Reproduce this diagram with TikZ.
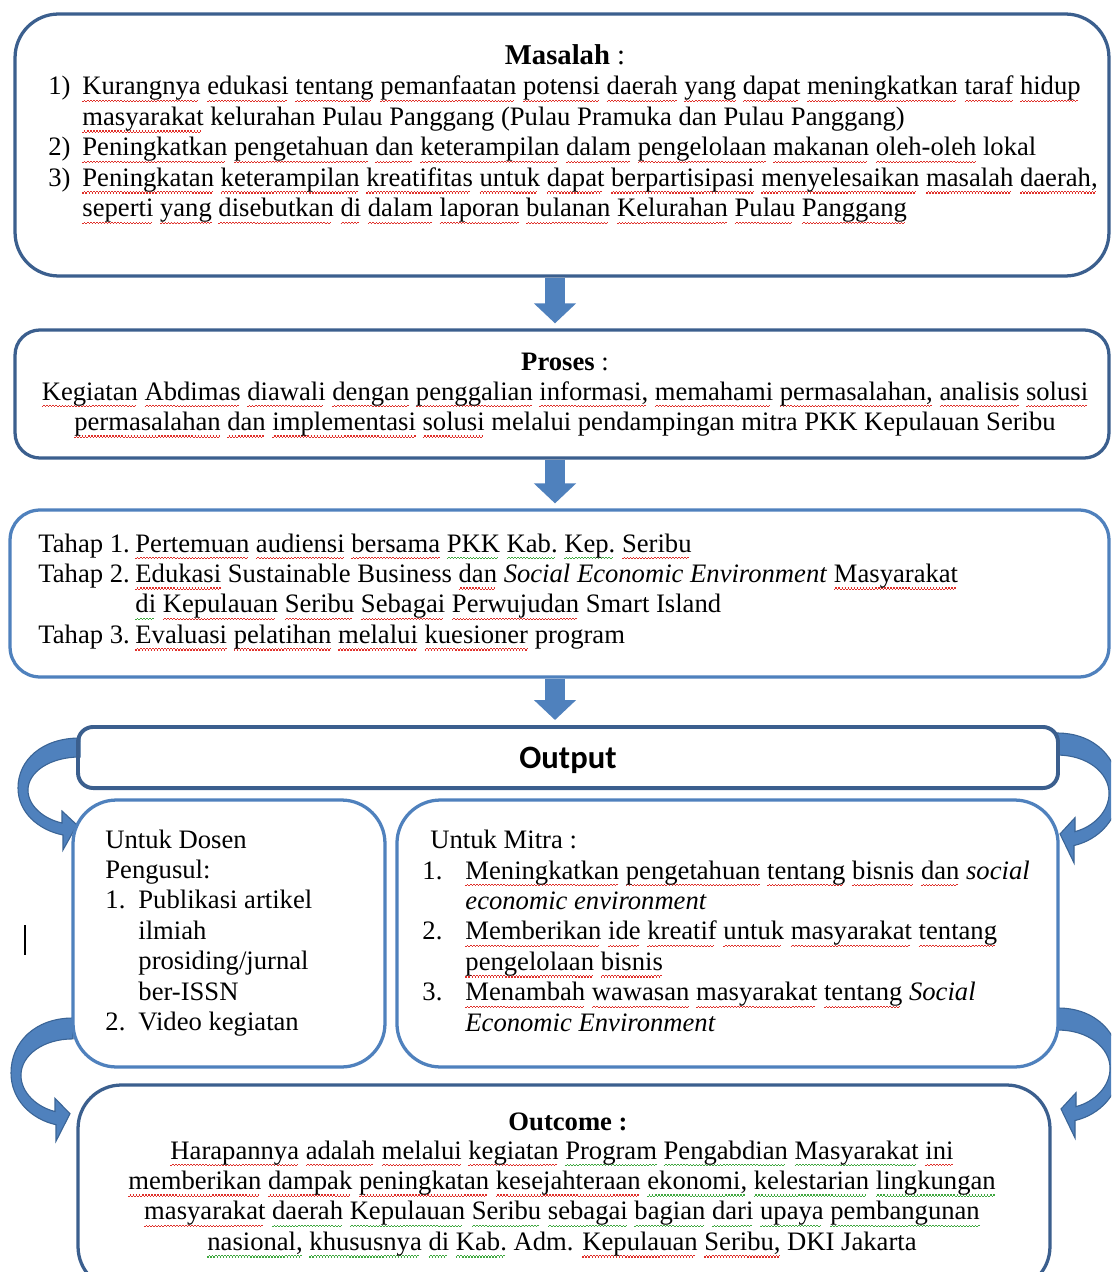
\documentclass[tikz,border=0pt]{standalone}
\usepackage{fontspec}
\setmainfont{Liberation Serif}
\newfontfamily\outputfont{Carlito}
\usetikzlibrary{arrows.meta}

% one pixel of the layout grid
\newdimen\px \px=0.46pt

\definecolor{boxdark}{HTML}{3B5F8E}
\definecolor{boxlight}{HTML}{4F81BD}
\definecolor{arrowfill}{HTML}{4F81BD}
\definecolor{arrowline}{HTML}{3A6496}
\definecolor{spellred}{HTML}{E0302A}
\definecolor{spellgreen}{HTML}{3FA83F}

% wavy proofing marks under words, built from staggered tiny rules
\newsavebox\wavebox
\newcommand\wavemark[2]{%
  \sbox\wavebox{#2}%
  \rlap{\color{#1}\leaders\hbox{\rule[-3.4pt]{0.7pt}{0.6pt}\rule[-2.8pt]{0.7pt}{0.6pt}}\hskip\wd\wavebox}%
  \usebox\wavebox}
\newcommand\rwave[1]{\wavemark{spellred}{#1}}
\newcommand\gwave[1]{\wavemark{spellgreen}{#1}}
% mark every word of a run separately
\def\rws#1{\rwsl#1 \relax}
\def\rwsl#1 #2\relax{\rwave{#1}\ifx\relax#2\relax\else\ \rwsl#2\relax\fi}
\def\gws#1{\gwsl#1 \relax}
\def\gwsl#1 #2\relax{\gwave{#1}\ifx\relax#2\relax\else\ \gwsl#2\relax\fi}

\tikzset{
  panel/.style={draw=#1, line width=1.5pt, inner sep=0pt},
  txt/.style={inner sep=0pt, font=\fontsize{12.25}{14.0}\selectfont},
  ttl/.style={inner sep=0pt, font=\fontsize{12.25}{14.0}\selectfont},
  blockarrow/.style={draw=arrowfill, line width=9.2pt,
    -{Triangle[width=18.9pt,length=9.2pt]}, shorten >=2.3pt},
  curvarrow/.pic={
    \filldraw[fill=arrowfill, draw=arrowline, line width=0.5pt]
      (0,0) .. controls (-38,0) and (-62,22) .. (-62,50)
      .. controls (-62,74) and (-42,92) .. (-17,97)
      -- (-17,112) -- (-3,87) -- (-18,73) -- (-18,85)
      .. controls (-36,81) and (-52,68) .. (-52,52)
      .. controls (-52,34) and (-30,19) .. (0,19) -- cycle;
  }
}

\begin{document}
\begin{tikzpicture}[x=0.46pt, y=-0.46pt]
\clip (0,0) rectangle (1111,1272);
\fill[white] (0,0) rectangle (1111,1272);

% curved arrows between the output row and the boxes below
\pic at (80,738) {curvarrow};
\pic[xscale=-1, yscale=1.16] at (1057,733) {curvarrow};
\pic[yscale=1.1] at (73,1018) {curvarrow};
\pic[xscale=-1, yscale=1.16] at (1058,1008) {curvarrow};

% panels
\node[panel=boxdark, rounded corners=20pt, minimum width=503.2pt, minimum height=120.5pt] (masalah) at (562,145) {};
\node[panel=boxdark, rounded corners=11.5pt, minimum width=503.2pt, minimum height=58.9pt] (proses) at (562,394) {};
\node[panel=boxlight, rounded corners=13.8pt, minimum width=505.5pt, minimum height=76.8pt] (tahap) at (559.5,593.5) {};
\node[panel=boxdark, line width=1.8pt, rounded corners=7pt, minimum width=450.8pt, minimum height=28.1pt] (output) at (568,757.5) {};
\node[panel=boxlight, rounded corners=20pt, minimum width=143.5pt, minimum height=122.8pt] (dosen) at (229,933.5) {};
\node[panel=boxlight, rounded corners=20pt, minimum width=304.1pt, minimum height=122.8pt] (mitra) at (727.5,933.5) {};
\node[panel=boxdark, rounded corners=20pt, minimum width=447.1pt, minimum height=94.3pt] (outcome) at (564,1187.5) {};

% block arrows down the column
\coordinate (ax) at (555,0);
\draw[blockarrow] (masalah.south -| ax) -- (proses.north -| ax);
\draw[blockarrow] (proses.south -| ax) -- (tahap.north -| ax);
\draw[blockarrow] (tahap.south -| ax) -- (output.north -| ax);

% Output heading
\node[inner sep=0pt, font=\outputfont\bfseries\fontsize{15}{18}\selectfont, anchor=base] (tout) at (568,768) {Output};

% Masalah
\node[ttl, font=\fontsize{13.2}{15}\selectfont, anchor=base] (tmas) at (565,65) {\textbf{Masalah} :};
\node[txt, anchor=base west] (lmas) at (48,95) {%
\begin{tabular}[t]{@{}p{34\px}@{}l@{}}
1) & \rws{Kurangnya edukasi tentang pemanfaatan potensi daerah yang dapat meningkatkan taraf hidup}\\
   & \rws{masyarakat} kelurahan Pulau Panggang (Pulau Pramuka dan Pulau Panggang)\\
2) & \rws{Peningkatkan pengetahuan dan keterampilan dalam pengelolaan makanan oleh-oleh} lokal\\
3) & \rws{Peningkatan keterampilan kreatifitas untuk dapat berpartisipasi menyelesaikan masalah daerah,}\\
   & \rws{seperti yang disebutkan di dalam laporan bulanan Kelurahan Pulau Panggang}
\end{tabular}};

% Proses
\node[ttl, anchor=base] (tpro) at (565,371) {\textbf{Proses} :};
\node[txt, anchor=base] (lpro) at (565,400) {%
\begin{tabular}[t]{@{}c@{}}
\rws{Kegiatan Abdimas diawali dengan penggalian informasi, memahami permasalahan, analisis solusi}\\
\rws{permasalahan dan implementasi solusi} melalui pendampingan mitra PKK Kepulauan Seribu
\end{tabular}};

% Tahap
\node[txt, anchor=base west] (ltah) at (38,552) {%
\begin{tabular}[t]{@{}p{97\px}@{}l@{}}
Tahap 1. & \rws{Pertemuan audiensi bersama} \gws{PKK Kab. Kep.} \rws{Seribu}\\
Tahap 2. & \rws{Edukasi} Sustainable Business \rws{dan} \textit{Social Economic Environment} \rws{Masyarakat}\\
         & \gws{di} \rws{Kepulauan Seribu Sebagai Perwujudan} Smart Island\\
Tahap 3. & \rws{Evaluasi pelatihan melalui kuesioner} program
\end{tabular}};

% Untuk Dosen
\node[txt, anchor=base west] (ldos) at (105,848) {%
\begin{tabular}[t]{@{}p{33\px}@{}l@{}}
\multicolumn{2}{@{}l@{}}{Untuk Dosen}\\
\multicolumn{2}{@{}l@{}}{Pengusul:}\\
1. & Publikasi artikel\\
   & ilmiah\\
   & prosiding/jurnal\\
   & ber-ISSN\\
2. & Video kegiatan
\end{tabular}};

% Untuk Mitra
\node[txt, anchor=base west] (tmit) at (430,848) {Untuk Mitra :};
\node[txt, anchor=base west] (lmit) at (422,879) {%
\begin{tabular}[t]{@{}p{43\px}@{}l@{}}
1. & \rws{Meningkatkan pengetahuan tentang bisnis dan} \textit{social}\\
   & \textit{economic environment}\\
2. & \rws{Memberikan ide kreatif untuk masyarakat tentang}\\
   & \rws{pengelolaan bisnis}\\
3. & \rws{Menambah wawasan masyarakat tentang} \textit{Social}\\
   & \textit{Economic Environment}
\end{tabular}};

% Outcome
\node[ttl, font=\fontsize{12.25}{14}\selectfont\bfseries, anchor=base] (tocm) at (568,1130) {Outcome :};
\node[txt, anchor=base] (locm) at (562,1159) {%
\begin{tabular}[t]{@{}c@{}}
\rws{Harapannya adalah melalui kegiatan} \gws{Program Pengabdian Masyarakat} \rws{ini}\\
\rws{memberikan dampak peningkatan kesejahteraan} \gws{ekonomi, kelestarian lingkungan}\\
\rws{masyarakat} \gws{daerah Kepulauan Seribu sebagai bagian dari upaya pembangunan}\\
\gws{nasional, khususnya di Kab.} Adm. \rws{Kepulauan Seribu,} DKI Jakarta
\end{tabular}};

% stray text cursor at the left margin
\draw[line width=1.2pt] (25,925) -- (25,955);
\end{tikzpicture}
\end{document}
